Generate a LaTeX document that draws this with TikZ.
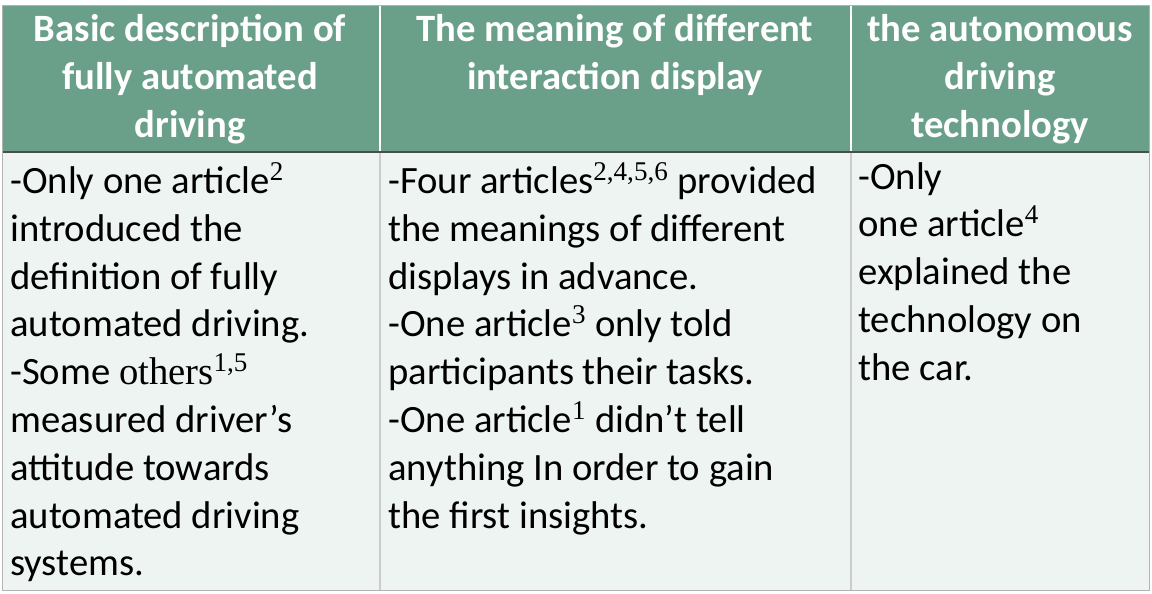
\documentclass[tikz,border=0pt]{standalone}
\usepackage{fontspec}
\setmainfont{Carlito}
\newfontfamily\serifw{Liberation Serif}
\usetikzlibrary{positioning}
\definecolor{headgreen}{HTML}{6AA08A}
\definecolor{bodygreen}{HTML}{EEF4F1}
\tikzset{
    every node/.style={font=\fontsize{22}{27.2}\selectfont,inner sep=0pt},
    head cell/.style={text=white,font=\fontsize{22}{27.2}\selectfont\bfseries,align=center,anchor=north},
    body cell/.style={text=black,align=left,anchor=north west}
}
\newcommand{\art}[1]{\textsuperscript{\serifw #1}}
\begin{document}
\begin{tikzpicture}[x=0.02cm,y=-0.02cm]
    \useasboundingbox (0,0) rectangle (1152,594);
    % cells
    \fill[headgreen] (2,5) rectangle (1149,152);
    \fill[bodygreen] (2,152) rectangle (1149,590);
    \draw[white,thick] (380,5) -- (380,152) (851,5) -- (851,152);
    \draw[gray!40,thick] (380,152) -- (380,590) (851,152) -- (851,590);
    \draw[black!70,thick] (2,152) -- (1149,152);
    \draw[gray!60] (2,5) rectangle (1149,590);
    % header row
    \node[head cell] (h1) at (190,14) {Basic description of\\fully automated\\driving};
    \node[head cell] (h2) at (615,14) {The meaning of different\\interaction display};
    \node[head cell] (h3) at (1000,14) {the autonomous\\driving\\technology};
    % body row
    \node[body cell] (b1) at (10,162) {-Only one article\art{2}\\introduced the\\definition of fully\\automated driving.\\-Some {\serifw others}\art{1,5}\\measured driver’s\\attitude towards\\automated driving\\systems.};
    \node[body cell] (b2) at (388,162) {-Four articles\art{2,4,5,6} provided\\the meanings of different\\displays in advance.\\-One article\art{3} only told\\participants their tasks.\\-One article\art{1} didn’t tell\\anything In order to gain\\the first insights.};
    \node[body cell] (b3) at (858,162) {-Only\\one article\art{4}\\explained the\\technology on\\the car.};
\end{tikzpicture}
\end{document}
